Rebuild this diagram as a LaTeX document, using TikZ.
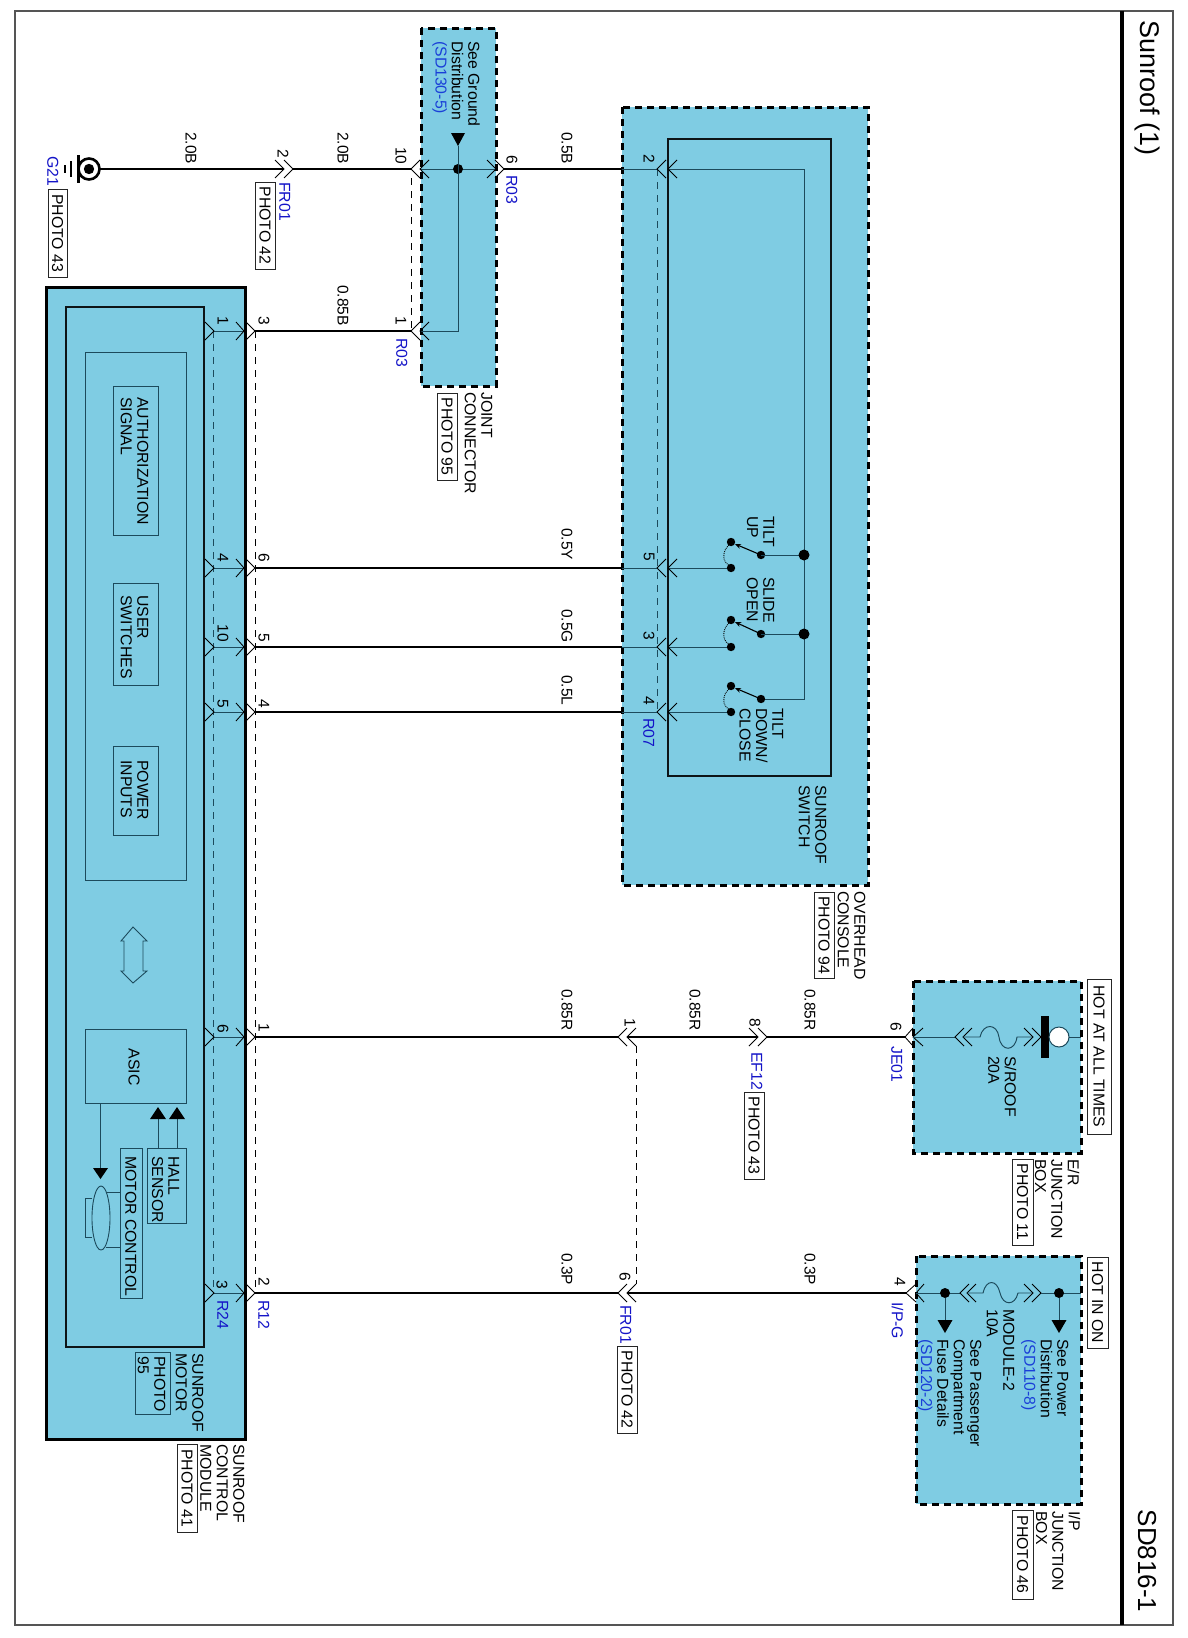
\documentclass[tikz,border=0pt]{standalone}
\usepackage{fontspec}
\setmainfont{Liberation Sans}
\usetikzlibrary{arrows.meta}
\definecolor{boxfill}{HTML}{7FCCE3}
\definecolor{wblue}{HTML}{1414C8}
\definecolor{lblue}{HTML}{1A3FD8}
\definecolor{thinc}{HTML}{1C4A5C}
\definecolor{framec}{HTML}{555555}
\tikzset{
  x=1pt,y=-1pt,
  txt/.style={rotate=-90,anchor=north west,inner sep=0pt,align=left,font=\fontsize{15.8}{16.4}\selectfont},
  pinl/.style={rotate=-90,inner sep=0pt,font=\fontsize{15.5}{15}\selectfont},
  gauge/.style={rotate=-90,anchor=west,inner sep=0pt,font=\fontsize{15.5}{15}\selectfont},
  conn/.style={rotate=-90,anchor=north west,inner sep=0pt,text=wblue,font=\fontsize{15.8}{15}\selectfont},
  photobox/.style={draw=black!85,line width=0.9pt,fill=white},
  solidbox/.style={draw=black,line width=3pt,fill=boxfill,line join=miter},
  dashbox/.style={draw=black,line width=3pt,fill=boxfill,dash pattern=on 7pt off 5pt},
  innerbox/.style={draw=black!90!boxfill,line width=2.8pt},
  thinbox/.style={draw=thinc,line width=0.9pt},
  wire/.style={draw=black,line width=2.8pt},
  thinw/.style={draw=thinc,line width=0.95pt},
  chev/.style={draw=black,line width=0.85pt},
  dashw/.style={draw=black,line width=0.9pt,dash pattern=on 7pt off 6pt},
  dashi/.style={draw=thinc,line width=0.9pt,dash pattern=on 7pt off 6pt},
}
% chevrons: apex x, y ; open side is to the right (L) or left (R)
\newcommand\chL[3][9]{\draw[chev] ({#2+#1},{#3-9}) -- (#2,#3) -- ({#2+#1},{#3+9});}
\newcommand\chR[3][9]{\draw[chev] ({#2-#1},{#3-9}) -- (#2,#3) -- ({#2-#1},{#3+9});}
\newcommand\tx[4]{\node[txt] (#1) at ({#2+5.5},#3) {#4};}
\newcommand\pinlbl[4]{\node[pinl] (#1) at (#2,#3) {#4};}
\newcommand\gaugelbl[4]{\node[gauge] (#1) at (#2,#3) {#4};}
\newcommand\connlbl[4]{\node[conn] (#1) at ({#2+5.5},#3) {#4};}
\newcommand\phbox[6]{\draw[photobox] (#2,#3) rectangle (#4,#5) node[midway,rotate=-90,inner sep=0pt,font=\fontsize{15.8}{16}\selectfont] (#1) {#6};}
\newcommand\dotc[4]{\node[circle,fill=black,inner sep=0pt,minimum size=#4pt] (#1) at (#2,#3) {};}
\newcommand\tridown[2]{\fill[black] ({#1-7.5},#2) -- ({#1+7.5},#2) -- (#1,{#2+13}) -- cycle;}
\newcommand\triup[2]{\fill[black] ({#1-8},#2) -- ({#1+8},#2) -- (#1,{#2-12}) -- cycle;}
\begin{document}
\begin{tikzpicture}
\useasboundingbox (0,0) rectangle (1188,1638);
\fill[white] (0,0) rectangle (1188,1638);
% frame
\draw[framec,line width=1.3pt] (15,11) rectangle (1173,1625);
\draw[black,line width=4pt] (1122,11) -- (1122,1625);
\node[rotate=-90,inner sep=0pt,font=\fontsize{27}{28}\selectfont] (title) at (1147,88) {Sunroof (1)};
\node[rotate=-90,inner sep=0pt,font=\fontsize{26}{28}\selectfont] (sheet) at (1147,1561) {SD816-1};

% boxes
\draw[dashbox] (421,28) rectangle (496,386);
\draw[dashbox] (622,107) rectangle (868,885);
\draw[innerbox] (668,139) rectangle (831,776);
\draw[solidbox] (46,287) rectangle (245,1439);
\draw[innerbox] (66,307) rectangle (204,1347);
\draw[thinbox] (85,352) rectangle (186,880);
\draw[thinbox] (113,386) rectangle (158,535);
\draw[thinbox] (113,583) rectangle (158,685);
\draw[thinbox] (113,746) rectangle (158,835);
\draw[thinbox] (85,1029) rectangle (186,1103);
\draw[thinbox] (147,1148) rectangle (186,1223);
\draw[thinbox] (120,1148) rectangle (142,1298);
\draw[thinbox] (135,1352) rectangle (170,1414);
\draw[dashbox] (913,981) rectangle (1081,1153);
\draw[dashbox] (916,1256) rectangle (1081,1504);

% named points
\coordinate (gnd) at (100,169);
\coordinate (fr2a) at (284,169); \coordinate (fr2b) at (293,169);
\coordinate (j10a) at (411,169); \coordinate (j10b) at (420,169);
\coordinate (j6a) at (496,169); \coordinate (j6b) at (504,169);
\coordinate (jdot) at (458,169);
\coordinate (j1a) at (411,331); \coordinate (j1b) at (420,331);
\coordinate (sw2e) at (622,169); \coordinate (sw2a) at (657,169); \coordinate (sw2b) at (668,169);
\coordinate (swbus) at (804,169); \coordinate (swbusend) at (804,699);
\foreach \nm/\yy in {a/331,b/568,c/647,d/712,e/1037,f/1293}{
  \coordinate (m\nm) at (214,\yy);
  \coordinate (n\nm) at (244,\yy);
  \coordinate (o\nm) at (255,\yy);
}
\coordinate (s5e) at (622,568); \coordinate (s5a) at (657,568); \coordinate (s5b) at (668,568);
\coordinate (s3e) at (622,647); \coordinate (s3a) at (657,647); \coordinate (s3b) at (668,647);
\coordinate (s4e) at (622,712); \coordinate (s4a) at (657,712); \coordinate (s4b) at (668,712);
\coordinate (c1a) at (618,1037); \coordinate (c1b) at (627,1037);
\coordinate (c6a) at (618,1293); \coordinate (c6b) at (627,1293);
\coordinate (c8a) at (758,1037); \coordinate (c8b) at (767,1037);
\coordinate (erapx) at (905,1037); \coordinate (ipapx) at (906,1293);
\coordinate (erin) at (913,1037); \coordinate (ipin) at (916,1293);

% thick wires
\draw[wire] (gnd) -- (fr2a);
\draw[wire] (fr2b) -- (j10a);
\draw[wire] (j6b) -- (sw2e);
\draw[wire] (oa) -- (j1a);
\draw[wire] (ob) -- (s5e);
\draw[wire] (oc) -- (s3e);
\draw[wire] (od) -- (s4e);
\draw[wire] (oe) -- (c1a);
\draw[wire] (c1b) -- (c8a);
\draw[wire] (c8b) -- (erapx);
\draw[wire] (of) -- (c6a);
\draw[wire] (c6b) -- (ipapx);

% dashed links
\draw[dashw] (411,178) -- (j1a);
\draw[dashw] (255,331) -- (255,1293);
\draw[dashi] (213,331) -- (213,1293);
\draw[dashi] (sw2a) -- (s4a);
\draw[dashw] (636,1046) -- (636,1284);

% joint connector inside
\draw[thinw] (j10b) -- (j6a);
\dotc{jd}{458}{169}{10}
\draw[thinw] (j1b) -- (458,331) -- (458,146);
\fill[black] (451,133) -- (465,133) -- (458,146) -- cycle;
\chL{411}{169}\chL{420}{169}\chR{496}{169}\chR{504}{169}
\chL{411}{331}\chL{420}{331}
\chR[9]{284}{169}\chR[9]{293}{169}

% ground
\draw[black,line width=2.6pt] (89,169) circle (10.5);
\fill[black] (89,169) circle (5.2);
\draw[black,line width=3pt] (78.5,155) -- (78.5,183);
\draw[black,line width=2.4pt] (71,161) -- (71,177);
\draw[black,line width=2.2pt] (65,165) -- (65,173);

% overhead switch
\draw[thinw] (sw2e) -- (sw2a);
\draw[thinw] (sw2b) -- (swbus) -- (swbusend) -- (761,699);
\chL{657}{169}\chL{668}{169}
\foreach \ya/\yb/\yc in {555/542/568,634/620/647,699/686/712}{
  \draw[thinw] (731,\yc) -- (668,\yc);
  \fill[black] (761,\ya) circle (4.2);
  \fill[black] (731,\yb) circle (4.2);
  \fill[black] (731,\yc) circle (4.2);
  \draw[black,line width=1.1pt,-{Stealth[length=6pt,width=5pt]}] (761,\ya) -- (735,\yb+2);
  \draw[black,line width=0.9pt,densely dotted] (729,\yb+3) .. controls (722,\yb+9) and (722,\yc-6) .. (729,\yc-3);
  \chL{657}{\yc}\chL{668}{\yc}
}
\draw[thinw] (761,555) -- (804,555);
\draw[thinw] (761,634) -- (804,634);
\dotc{bus1}{804}{555}{11}
\dotc{bus2}{804}{634}{11}
\draw[thinw] (s5e) -- (s5a);
\draw[thinw] (s3e) -- (s3a);
\draw[thinw] (s4e) -- (s4a);

% module pins
\foreach \nm in {a,b,c,d,e,f}{
  \draw[thinw] (m\nm) -- (n\nm);
}
\foreach \yy in {331,568,647,712,1037,1293}{
  \chR[9]{214}{\yy}\chR[8]{244}{\yy}\chR[9]{255}{\yy}
}

% mid connectors
\chL{618}{1037}\chL{627}{1037}
\chL{618}{1293}\chL{627}{1293}
\chR{758}{1037}\chR{767}{1037}

% E/R junction box
\chL[8]{905}{1037}\chL[10]{913}{1037}
\draw[thinw] (erin) -- (955,1037);
\chL{955}{1037}\chL{963}{1037}
\draw[thinw] (963,1037) -- (980,1037) .. controls (983,1023) and (997,1023) .. (999,1037) .. controls (1001,1052) and (1015,1052) .. (1017,1037) -- (1033,1037);
\chR{1033}{1037}\chR{1041}{1037}
\fill[black] (1041,1016) rectangle (1049,1058);
\draw[thinc,line width=1pt,fill=white] (1059,1037) circle (10);
\draw[thinw] (1069,1037) -- (1081,1037);

% I/P junction box
\chL[10]{906}{1293}\chL[8]{916}{1293}
\draw[thinw] (ipin) -- (960,1293);
\chL{960}{1293}\chL{967}{1293}
\draw[thinw] (967,1293) -- (983,1293) .. controls (986,1279) and (997,1279) .. (1000,1293) .. controls (1003,1306) and (1015,1306) .. (1018,1293) -- (1033,1293);
\chR{1033}{1293}\chR{1041}{1293}
\draw[thinw] (1041,1293) -- (1081,1293);
\dotc{ipd1}{945}{1293}{10}
\dotc{ipd2}{1059}{1293}{10}
\draw[thinw] (ipd1) -- (945,1321);
\draw[thinw] (ipd2) -- (1059,1321);
\tridown{945}{1320}\tridown{1059}{1320}

% module internals
\draw[thinc,line width=0.9pt] (133,927) -- (147,941) -- (143,941) -- (143,971) -- (147,971) -- (133,983) -- (121,971) -- (124,971) -- (124,941) -- (121,941) -- cycle;
\draw[thinw] (100,1103) -- (100,1169);
\fill[black] (93,1168) -- (108,1168) -- (100.5,1179) -- cycle;
\draw[thinw] (158,1148) -- (158,1118);
\draw[thinw] (177,1148) -- (177,1118);
\triup{158}{1119}\triup{177}{1119}
\draw[thinc,line width=0.9pt] (92,1198) -- (85,1198) -- (85,1237) -- (92,1237);
\draw[thinc,line width=0.9pt] (101,1218) ellipse (9 and 32);
\draw[thinc,line width=0.9pt] (106,1192) -- (120,1192);
\draw[thinc,line width=0.9pt] (106,1247) -- (120,1247);

% photo boxes
\phbox{p43a}{48}{189}{67}{277}{PHOTO 43}
\phbox{p42a}{255}{182}{275}{269}{PHOTO 42}
\phbox{p95a}{437}{393}{457}{480}{PHOTO 95}
\phbox{p94}{814}{892}{834}{978}{PHOTO 94}
\phbox{p41}{177}{1444}{197}{1532}{PHOTO 41}
\phbox{p43b}{744}{1092}{764}{1179}{PHOTO 43}
\phbox{p42b}{617}{1346}{637}{1433}{PHOTO 42}
\phbox{p11}{1012}{1159}{1033}{1245}{PHOTO 11}
\phbox{p46}{1012}{1510}{1033}{1599}{PHOTO 46}
\phbox{hot1}{1087}{979}{1111}{1134}{HOT AT ALL TIMES}
\phbox{hot2}{1087}{1257}{1108}{1348}{HOT IN ON}

% block texts
\tx{tj1}{474.5}{41}{See Ground\\Distribution\\\textcolor{lblue}{(SD130-5)}}
\tx{tj2}{487}{392}{JOINT\\CONNECTOR}
\tx{ts1}{769}{516}{TILT\\UP}
\tx{ts2}{769}{577}{SLIDE\\OPEN}
\tx{ts3}{778}{708}{TILT\\DOWN/\\CLOSE}
\tx{ts4}{821}{785}{SUNROOF\\SWITCH}
\tx{ts5}{860}{891}{OVERHEAD\\CONSOLE}
\tx{tm1}{143}{397}{AUTHORIZATION\\SIGNAL}
\tx{tm2}{143}{595}{USER\\SWITCHES}
\tx{tm3}{143}{760}{POWER\\INPUTS}
\node[rotate=-90,inner sep=0pt,font=\fontsize{15.8}{16}\selectfont] (tasic) at (134,1067) {ASIC};
\tx{tm4}{174}{1156}{HALL\\SENSOR}
\tx{tm5}{131}{1156}{MOTOR CONTROL}
\tx{tm6}{198}{1353}{SUNROOF\\MOTOR}
\tx{tm7}{160}{1356}{PHOTO\\95}
\tx{tm8}{239}{1444}{SUNROOF\\CONTROL\\MODULE}
\tx{te1}{1011}{1056}{S/ROOF\\20A}
\tx{te2}{1074}{1159}{E/R\\JUNCTION\\BOX}
\tx{ti1}{1063}{1339}{See Power\\Distribution\\\textcolor{lblue}{(SD110-8)}}
\tx{ti2}{1009}{1309}{MODULE-2\\10A}
\tx{ti3}{976}{1339}{See Passenger\\Compartment\\Fuse Details\\\textcolor{lblue}{(SD120-2)}}
\tx{ti4}{1075}{1511}{I/P\\JUNCTION\\BOX}

% wire gauges
\gaugelbl{g1}{191}{132}{2.0B}
\gaugelbl{g2}{343}{132}{2.0B}
\gaugelbl{g3}{567}{132}{0.5B}
\gaugelbl{g4}{343}{285}{0.85B}
\gaugelbl{g5}{567}{528}{0.5Y}
\gaugelbl{g6}{567}{609}{0.5G}
\gaugelbl{g7}{567}{675}{0.5L}
\gaugelbl{g8}{567}{989}{0.85R}
\gaugelbl{g9}{695}{989}{0.85R}
\gaugelbl{g10}{810}{989}{0.85R}
\gaugelbl{g11}{567}{1253}{0.3P}
\gaugelbl{g12}{810}{1253}{0.3P}

% pin numbers
\pinlbl{n1}{283}{154}{2}
\pinlbl{n2}{401}{156}{10}
\pinlbl{n3}{512}{160}{6}
\pinlbl{n4}{401}{321}{1}
\pinlbl{n5}{264}{321}{3}
\pinlbl{n6}{223}{321}{1}
\pinlbl{n7}{649}{159}{2}
\pinlbl{n8}{649}{557}{5}
\pinlbl{n9}{649}{636}{3}
\pinlbl{n10}{649}{701}{4}
\pinlbl{n11}{223}{558}{4}
\pinlbl{n12}{264}{558}{6}
\pinlbl{n13}{223}{633}{10}
\pinlbl{n14}{264}{638}{5}
\pinlbl{n15}{223}{704}{5}
\pinlbl{n16}{264}{704}{4}
\pinlbl{n17}{223}{1029}{6}
\pinlbl{n18}{264}{1028}{1}
\pinlbl{n19}{222}{1285}{3}
\pinlbl{n20}{264}{1282}{2}
\pinlbl{n21}{630}{1023}{1}
\pinlbl{n22}{755}{1023}{8}
\pinlbl{n23}{625}{1277}{6}
\pinlbl{n24}{896}{1027}{6}
\pinlbl{n25}{900}{1282}{4}

% connector codes
\connlbl{c1}{53}{156}{G21}
\connlbl{c2}{285}{182}{FR01}
\connlbl{c3}{512}{175}{R03}
\connlbl{c4}{402}{338}{R03}
\connlbl{c5}{649}{718}{R07}
\connlbl{c6}{223}{1300}{R24}
\connlbl{c7}{264}{1300}{R12}
\connlbl{c8}{757}{1052}{EF12}
\connlbl{c9}{626}{1305}{FR01}
\connlbl{c10}{897}{1046}{JE01}
\connlbl{c11}{898}{1302}{I/P-G}
\end{tikzpicture}
\end{document}
